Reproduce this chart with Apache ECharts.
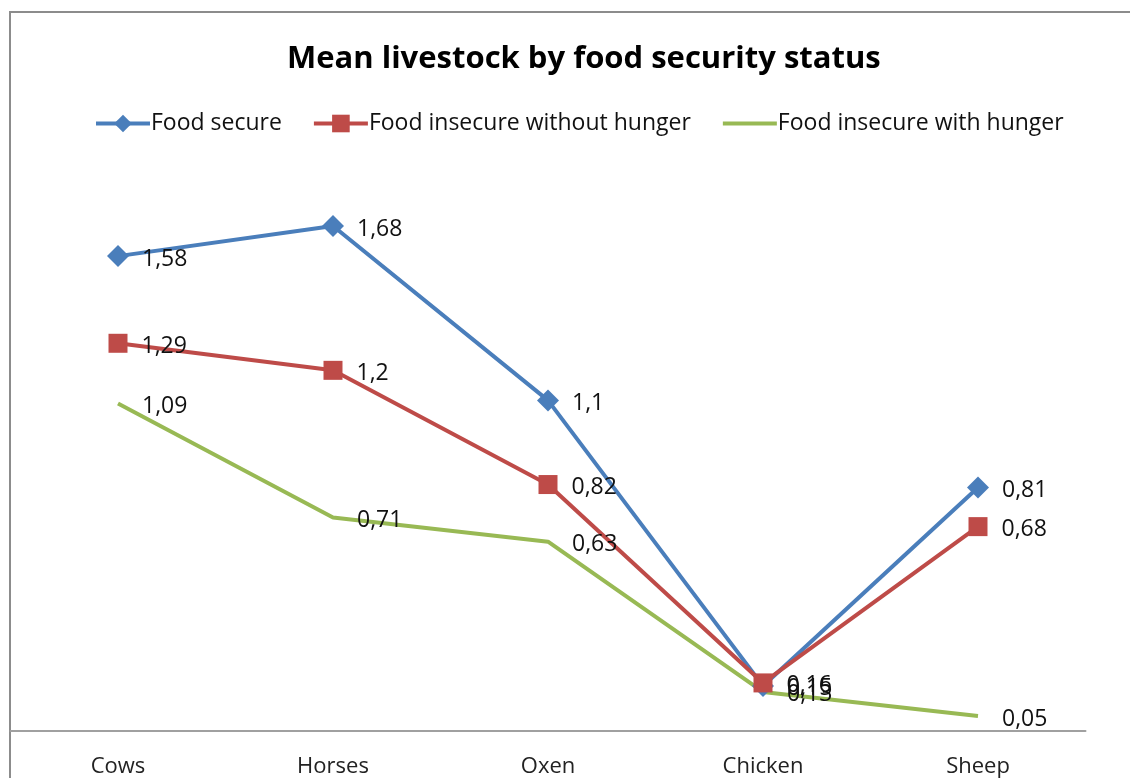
<!DOCTYPE html>
<html>
<head>
<meta charset="utf-8">
<script src="https://cdn.jsdelivr.net/npm/echarts@6/dist/echarts.min.js"></script>
<style>
  html, body { margin: 0; padding: 0; background: #fff; }
  #chart { width: 1130px; height: 778px; }
</style>
</head>
<body>
<div id="chart"></div>
<script>
// Livestock categories and mean counts per household group
const categories = ['Cows', 'Horses', 'Oxen', 'Chicken', 'Sheep'];
const foodSecure = [1.58, 1.68, 1.1, 0.15, 0.81];
const insecureWithoutHunger = [1.29, 1.2, 0.82, 0.16, 0.68];
const insecureWithHunger = [1.09, 0.71, 0.63, 0.13, 0.05];
const seriesNames = ['Food secure', 'Food insecure without hunger', 'Food insecure with hunger'];

const FONT = '"Open Sans", "Noto Sans", sans-serif';
const commaFmt = p => String(p.value).replace('.', ',');

function labelStyle(distance) {
  return {
    show: true,
    position: 'right',
    distance: distance,
    offset: [0, 3],
    color: '#111',
    fontFamily: FONT,
    fontSize: 23,
    formatter: commaFmt
  };
}

function lineSeries(name, data, color, symbol, symbolSize, distance) {
  return {
    name: name,
    type: 'line',
    data: data,
    symbol: symbol,
    symbolSize: symbolSize,
    showAllSymbol: true,
    lineStyle: { color: color, width: 4 },
    itemStyle: { color: color },
    label: labelStyle(distance),
    emphasis: { disabled: true },
    animation: false
  };
}

const chart = echarts.init(document.getElementById('chart'), null, { renderer: 'canvas' });
chart.setOption({
  backgroundColor: '#fff',
  animation: false,
  title: {
    text: 'Mean livestock by food security status',
    left: 282,
    top: 39,
    textStyle: { fontFamily: FONT, fontSize: 31, fontWeight: 'bold', color: '#000' }
  },
  legend: {
    top: 107,
    left: 89,
    itemWidth: 54,
    itemHeight: 22,
    itemGap: 30,
    lineStyle: { width: 4 },
    textStyle: { fontFamily: FONT, fontSize: 23, color: '#111', padding: [0, 0, 0, -4] },
    data: [
      { name: seriesNames[0] },
      { name: seriesNames[1] },
      { name: seriesNames[2], itemStyle: { opacity: 0 } }
    ]
  },
  grid: { left: 10.5, right: 44.5, top: 190, bottom: 47, containLabel: false },
  xAxis: {
    type: 'category',
    data: categories,
    boundaryGap: true,
    axisLine: { lineStyle: { color: '#a0a0a0', width: 2 } },
    axisTick: { show: false },
    axisLabel: { fontFamily: FONT, fontSize: 22, color: '#222', margin: 25 }
  },
  yAxis: {
    type: 'value',
    min: 0,
    max: 1.8,
    show: false,
    splitLine: { show: false }
  },
  graphic: [
    {
      type: 'polyline',
      shape: { points: [[10, 778], [10, 12], [1130, 12]] },
      style: { stroke: '#8c8c8c', lineWidth: 2, fill: null },
      silent: true
    }
  ],
  series: [
    lineSeries(seriesNames[0], foodSecure, '#4a7ebb', 'diamond', 22, 13),
    lineSeries(seriesNames[1], insecureWithoutHunger, '#be4b48', 'rect', 19, 14),
    lineSeries(seriesNames[2], insecureWithHunger, '#98b954', 'circle', 0.01, 24)
  ]
});
</script>
</body>
</html>
